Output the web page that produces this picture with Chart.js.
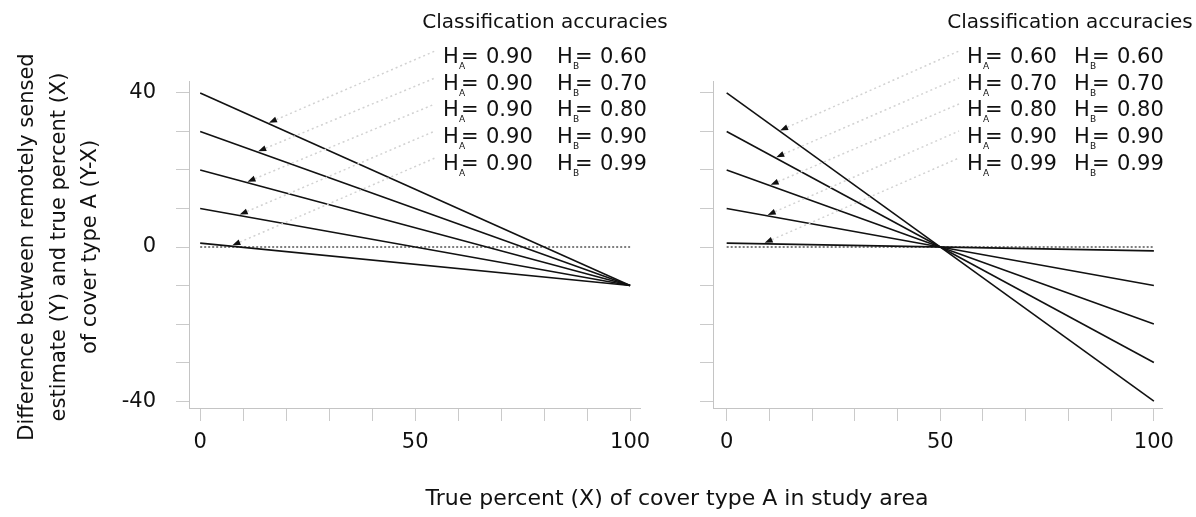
<!DOCTYPE html>
<html>
<head>
<meta charset="utf-8">
<script src="https://cdn.jsdelivr.net/npm/chart.js@4.4.1/dist/chart.umd.min.js"></script>
<style>
  body { margin: 0; background: #fff; }
  #wrap { position: relative; width: 1196px; height: 517px; overflow: hidden; }
  #left { position: absolute; left: 0; top: 0; }
  #right { position: absolute; left: 680px; top: 0; }
  #xtitle { position: absolute; left: 377px; width: 600px; top: 486px; text-align: center;
            font: 22px "DejaVu Sans", sans-serif; color: #111; line-height: 24px; }
</style>
</head>
<body>
<div id="wrap">
  <canvas id="left" width="680" height="517"></canvas>
  <canvas id="right" width="516" height="517"></canvas>
  <div id="xtitle">True percent (X) of cover type A in study area</div>
</div>
<script>
// data
const xValues = [0, 100];
const leftStart = [40, 30, 20, 10, 1];
const leftEnd = [-10, -10, -10, -10, -10];
const rightStart = [40, 30, 20, 10, 1];
const rightEnd = [-40, -30, -20, -10, -1];
const zeroLine = [0, 0];

const leftHA = ['0.90', '0.90', '0.90', '0.90', '0.90'];
const leftHB = ['0.60', '0.70', '0.80', '0.90', '0.99'];
const rightHA = ['0.60', '0.70', '0.80', '0.90', '0.99'];
const rightHB = ['0.60', '0.70', '0.80', '0.90', '0.99'];

// where the little arrows sit on each line (x value)
const leftArrowX = [16, 13.5, 11, 9.2, 7.5];
const rightArrowX = [12.5, 11.6, 10.3, 9.6, 8.9];

const yTicks = [-40, -30, -20, -10, 0, 10, 20, 30, 40];
const yLabels = [-40, 0, 40];
const xTicks = [0, 10, 20, 30, 40, 50, 60, 70, 80, 90, 100];
const xLabels = [0, 50, 100];

const yTitle = ['Difference between remotely sensed', 'estimate (Y) and true percent (X)', 'of cover type A (Y-X)'];

const FONT = '"DejaVu Sans", sans-serif';
const rowBase = [63, 90, 116, 143, 170];

function drawH(ctx, x, base, sub, val) {
    ctx.font = '21px ' + FONT;
    ctx.fillText('H', x, base);
    ctx.font = '9px ' + FONT;
    ctx.fillText(sub, x + 16, base + 6);
    ctx.font = '21px ' + FONT;
    ctx.fillText('=', x + 18, base);
    ctx.fillText(val, x + 43, base);
}

function decor(cfg) {
    return {
        id: 'decor',
        afterDatasetsDraw(chart) {
            const ctx = chart.ctx;
            const xs = chart.scales.x, ys = chart.scales.y;
            ctx.save();
            ctx.fillStyle = '#111';
            ctx.textBaseline = 'alphabetic';
            ctx.font = '20px ' + FONT;
            ctx.textAlign = 'center';
            ctx.fillText('Classification accuracies', cfg.titleX, 28);
            ctx.textAlign = 'left';
            for (let i = 0; i < cfg.start.length; i++) {
                const base = rowBase[i];
                ctx.fillStyle = '#111';
                drawH(ctx, cfg.col1, base, 'A', cfg.ha[i]);
                drawH(ctx, cfg.col2, base, 'B', cfg.hb[i]);

                const ax = cfg.arrowX[i];
                const ay = cfg.start[i] + (cfg.end[i] - cfg.start[i]) * (ax - xValues[0]) / (xValues[1] - xValues[0]);
                const px = xs.getPixelForValue(ax), py = ys.getPixelForValue(ay) - 1;
                const tx = cfg.col1 - 8, ty = base - 12;
                const ang = Math.atan2(ty - py, tx - px);
                const L = 8, W = 3;
                const bx = px + Math.cos(ang) * L, by = py + Math.sin(ang) * L;

                ctx.strokeStyle = '#d2d2d2';
                ctx.lineWidth = 1.5;
                ctx.setLineDash([2, 3]);
                ctx.beginPath();
                ctx.moveTo(bx, by);
                ctx.lineTo(tx, ty);
                ctx.stroke();
                ctx.setLineDash([]);

                ctx.fillStyle = '#111';
                ctx.beginPath();
                ctx.moveTo(px, py);
                ctx.lineTo(bx - Math.sin(ang) * W, by + Math.cos(ang) * W);
                ctx.lineTo(bx + Math.sin(ang) * W, by - Math.cos(ang) * W);
                ctx.closePath();
                ctx.fill();
            }
            if (cfg.yTitle) {
                ctx.font = '21px ' + FONT;
                ctx.textAlign = 'center';
                ctx.textBaseline = 'middle';
                const xs2 = [28, 60, 91];
                cfg.yTitle.forEach((t, k) => {
                    ctx.save();
                    ctx.translate(xs2[k], 247);
                    ctx.rotate(-Math.PI / 2);
                    ctx.fillText(t, 0, 0);
                    ctx.restore();
                });
            }
            ctx.restore();
        }
    };
}

function makePanel(id, start, end, cfg) {
    const datasets = start.map((s, i) => ({
        data: [{ x: xValues[0], y: s }, { x: xValues[1], y: end[i] }],
        borderColor: '#111',
        borderWidth: 1.6,
        showLine: true,
        pointRadius: 0
    }));
    datasets.push({
        data: [{ x: xValues[0], y: zeroLine[0] }, { x: xValues[1], y: zeroLine[1] }],
        borderColor: '#555',
        borderWidth: 1.5,
        borderDash: [2, 2],
        showLine: true,
        pointRadius: 0
    });

    new Chart(document.getElementById(id), {
        type: 'scatter',
        data: { datasets: datasets },
        options: {
            responsive: false,
            animation: false,
            layout: { padding: { top: 81, right: cfg.padRight, left: 0, bottom: 0 } },
            plugins: { legend: { display: false }, tooltip: { enabled: false } },
            scales: {
                x: {
                    type: 'linear',
                    min: cfg.xMin, max: cfg.xMax,
                    afterBuildTicks: s => { s.ticks = xTicks.map(v => ({ value: v })); },
                    afterFit: s => { s.height = 109; },
                    border: { color: '#c4c4c4', width: 1 },
                    grid: { drawOnChartArea: false, tickLength: 13, color: '#cacaca' },
                    ticks: {
                        padding: 9,
                        color: '#111',
                        font: { family: FONT, size: 21 },
                        maxRotation: 0,
                        autoSkip: false,
                        callback: v => xLabels.includes(v) ? String(v) : ''
                    }
                },
                y: {
                    type: 'linear',
                    min: -41.8, max: 43.1,
                    afterBuildTicks: s => { s.ticks = yTicks.map(v => ({ value: v })); },
                    afterFit: s => { s.width = cfg.yWidth; },
                    border: { color: '#c4c4c4', width: 1 },
                    grid: { drawOnChartArea: false, tickLength: 13, color: '#cacaca' },
                    ticks: {
                        display: cfg.yLabels,
                        padding: 20,
                        color: '#111',
                        font: { family: FONT, size: 21 },
                        autoSkip: false,
                        callback: v => yLabels.includes(v) ? String(v) : ''
                    }
                }
            }
        },
        plugins: [decor(cfg)]
    });
}

makePanel('left', leftStart, leftEnd, {
    padRight: 40, yWidth: 189, xMin: -2.6, xMax: 102.3, yLabels: true,
    titleX: 545, col1: 443, col2: 557,
    ha: leftHA, hb: leftHB, arrowX: leftArrowX,
    start: leftStart, end: leftEnd, yTitle: yTitle
});

makePanel('right', rightStart, rightEnd, {
    padRight: 34, yWidth: 33, xMin: -3.2, xMax: 101.9, yLabels: false,
    titleX: 390, col1: 287, col2: 394,
    ha: rightHA, hb: rightHB, arrowX: rightArrowX,
    start: rightStart, end: rightEnd, yTitle: null
});
</script>
</body>
</html>
